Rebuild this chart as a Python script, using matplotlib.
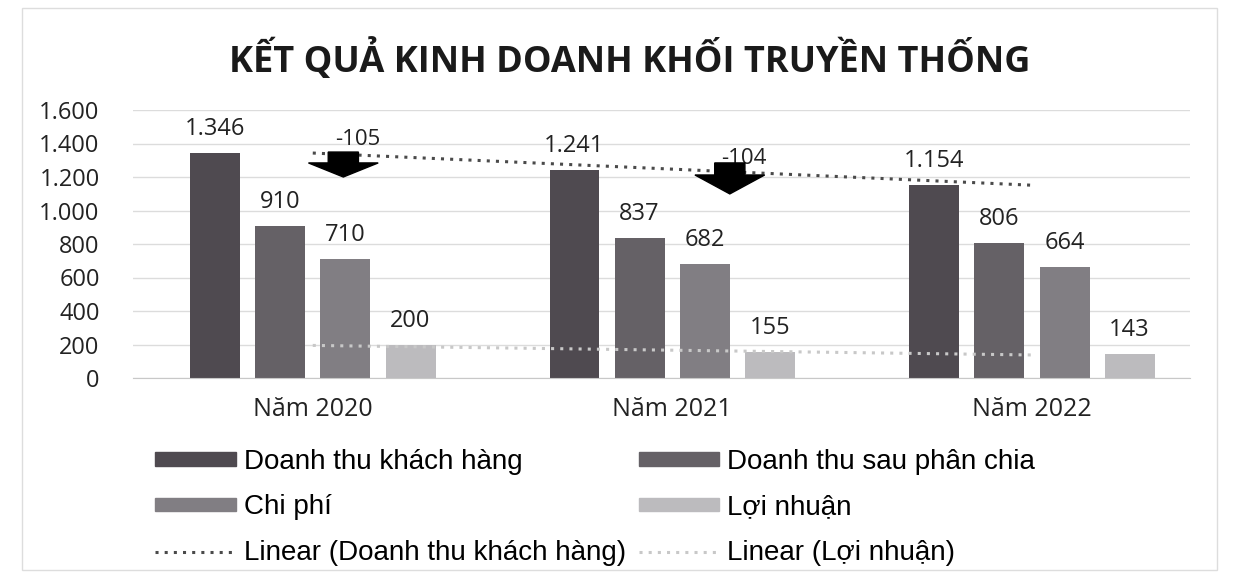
import numpy as np
import matplotlib.pyplot as plt
from matplotlib.patches import Patch, Rectangle

plt.rcParams['font.family'] = ['Open Sans', 'DejaVu Sans']

# data
years = ["Năm 2020", "Năm 2021", "Năm 2022"]
series_names = ["Doanh thu khách hàng", "Doanh thu sau phân chia", "Chi phí", "Lợi nhuận"]
dt_khach_hang = [1346, 1241, 1154]
dt_sau_phan_chia = [910, 837, 806]
chi_phi = [710, 682, 664]
loi_nhuan = [200, 155, 143]
change_labels = ["-105", "-104"]
y_ticks = [0, 200, 400, 600, 800, 1000, 1200, 1400, 1600]

bar_colors = ["#4f4a50", "#656166", "#817e83", "#bcbbbe"]
trend_colors = ["#4a4a4a", "#c8c8c8"]


def fmt(v):
    # thousands with a dot, as in the Vietnamese original
    return f"{v:,}".replace(",", ".")


fig = plt.figure(figsize=(12.35, 5.76), dpi=100)
ax = fig.add_axes([133 / 1235, 1 - 378 / 576, (1190 - 133) / 1235, 268 / 576])

x = np.arange(len(years))
width = 0.139
offsets = [-0.272, -0.091, 0.091, 0.272]
all_series = [dt_khach_hang, dt_sau_phan_chia, chi_phi, loi_nhuan]

for vals, off, col in zip(all_series, offsets, bar_colors):
    ax.bar(x + off, vals, width, color=col, zorder=2)
    for xi, v in zip(x + off, vals):
        ax.text(xi, v + 70, fmt(v), ha='center', va='bottom', fontsize=17, color='#222222')

# linear trend lines (fit on the category index)
trend_handles = []
for vals, col in zip([dt_khach_hang, loi_nhuan], trend_colors):
    k, c = np.polyfit(x, vals, 1)
    xs = np.array([x[0], x[-1]])
    ln, = ax.plot(xs, k * xs + c, linestyle=(0, (1, 2)), color=col, lw=2.2, zorder=3)
    trend_handles.append(ln)


def block_arrow(cx, top, neck, tip, shaft_w=0.042, head_w=0.097):
    px = [cx - shaft_w, cx + shaft_w, cx + shaft_w, cx + head_w, cx, cx - head_w, cx - shaft_w]
    py = [top, top, neck, neck, tip, neck, neck]
    ax.fill(px, py, color='black', zorder=4)


block_arrow(0.085, 1349, 1284, 1200)
block_arrow(1.16, 1284, 1212, 1099)
ax.text(0.126, 1421, change_labels[0], ha='center', va='center', fontsize=16, color='#222222')
ax.text(1.20, 1313, change_labels[1], ha='center', va='center', fontsize=16, color='#222222')

ax.set_ylim(0, 1600)
ax.set_xlim(-0.5, 2.44)
ax.set_yticks(y_ticks)
ax.set_yticklabels([fmt(t) for t in y_ticks], fontsize=17, color='#222222')
ax.set_xticks(x)
ax.set_xticklabels(years, fontsize=18, color='#222222')
ax.tick_params(axis='both', length=0)
ax.tick_params(axis='y', pad=24)
ax.tick_params(axis='x', pad=14)
ax.grid(axis='y', color='#dcdcdc', lw=1, zorder=0)
ax.set_axisbelow(True)
for s in ['top', 'right', 'left']:
    ax.spines[s].set_visible(False)
ax.spines['bottom'].set_color('#c8c8c8')

fig.text(630 / 1235, 1 - 60 / 576, "KẾT QUẢ KINH DOANH KHỐI TRUYỀN THỐNG",
         ha='center', va='center', fontsize=26, fontweight='bold', color='#1a1a1a')

handles = [Patch(color=bar_colors[0]), Patch(color=bar_colors[2]), trend_handles[0],
           Patch(color=bar_colors[1]), Patch(color=bar_colors[3]), trend_handles[1]]
labels = [series_names[0], series_names[2], "Linear (" + series_names[0] + ")",
          series_names[1], series_names[3], "Linear (" + series_names[3] + ")"]
fig.legend(handles, labels, loc='upper left', bbox_to_anchor=(155 / 1235, 1 - 449 / 576),
           ncol=2, frameon=False, prop={'family': 'Liberation Sans', 'size': 20},
           handlelength=2.9, handleheight=0.36, handletextpad=0.3,
           columnspacing=0.45, labelspacing=0.7, borderpad=0, borderaxespad=0)

fig.add_artist(Rectangle((22 / 1235, 6 / 576), 1195 / 1235, 562 / 576, transform=fig.transFigure,
                         fill=False, edgecolor='#dddddd', lw=1))

fig.savefig("out.png", dpi=100, facecolor='white')
